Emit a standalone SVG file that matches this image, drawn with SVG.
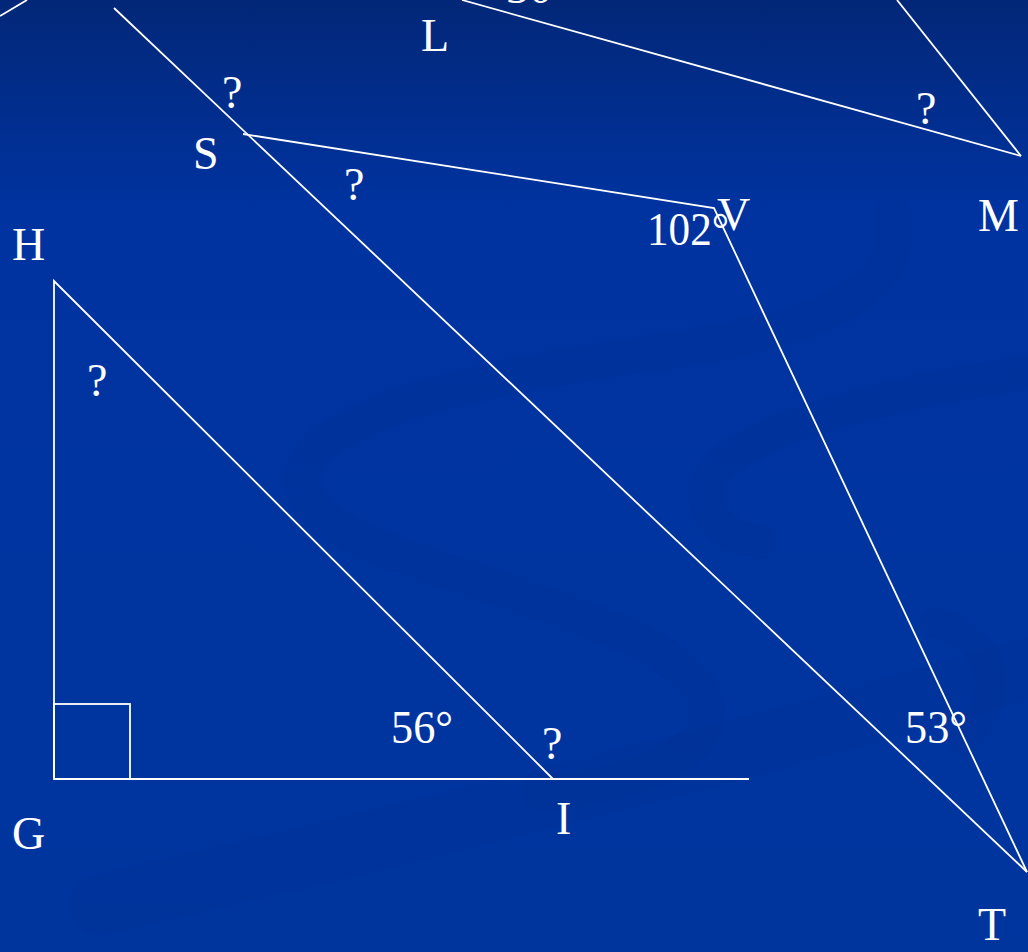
<svg xmlns="http://www.w3.org/2000/svg" width="1028" height="952" viewBox="0 0 1028 952">
  <defs>
    <linearGradient id="bg" x1="0" y1="0" x2="0" y2="1">
      <stop offset="0" stop-color="#022778"/>
      <stop offset="0.22" stop-color="#0033a0"/>
      <stop offset="1" stop-color="#00359e"/>
    </linearGradient>
  </defs>
  <style>
    .ln { stroke: #ffffff; stroke-width: 1.8; fill: none; stroke-linejoin: miter; }
    .lb { font-family: "Liberation Serif", "Times New Roman", serif; font-size: 46px; fill: #ffffff; }
    .sw { fill: none; stroke: #002c8a; stroke-linecap: round; opacity: 0.13; }
  </style>

  <rect x="0" y="0" width="1028" height="952" fill="url(#bg)"/>

  <g id="background-swirl">
    <path class="sw" stroke-width="36" d="M 893 215 C 905 295, 820 330, 640 355 C 460 380, 300 420, 302 480 C 304 540, 440 565, 560 610 C 680 650, 722 690, 702 730 C 682 770, 600 790, 540 792"/>
    <path class="sw" stroke-width="34" d="M 1028 372 C 900 392, 712 432, 706 490 C 703 525, 735 540, 760 542"/>
    <path class="sw" stroke-width="30" d="M 935 622 C 1000 640, 1008 700, 962 742"/>
    <path class="sw" stroke-width="60" d="M 100 905 C 400 835, 700 765, 1028 668"/>
  </g>

  <g id="connectors">
    <line class="ln" x1="0" y1="16" x2="27" y2="0"/>
    <line class="ln" x1="114" y1="8" x2="1027" y2="872"/>
    <polyline class="ln" points="243,134 714,208 1027,872"/>
    <line class="ln" x1="462" y1="0" x2="1021" y2="156"/>
    <line class="ln" x1="897" y1="0" x2="1021" y2="156"/>
    <polyline class="ln" points="54,779 54,281 553,779"/>
    <line class="ln" x1="54" y1="779" x2="749" y2="779"/>
    <rect class="ln" x="54" y="704" width="76" height="75"/>
  </g>

  <g id="node-top-angle"><text class="lb" x="506" y="3" textLength="46" lengthAdjust="spacingAndGlyphs">30</text></g>
  <g id="node-L"><text class="lb" x="421" y="51">L</text></g>
  <g id="node-M"><text class="lb" x="978" y="231">M</text></g>
  <g id="node-M-angle"><text class="lb" x="916" y="124">?</text></g>
  <g id="node-S"><text class="lb" x="193" y="169">S</text></g>
  <g id="node-S-angle-outer"><text class="lb" x="222" y="108">?</text></g>
  <g id="node-S-angle-inner"><text class="lb" x="344" y="200">?</text></g>
  <g id="node-V"><text class="lb" x="717" y="230">V</text></g>
  <g id="node-V-angle"><text class="lb" x="647" y="245" textLength="82" lengthAdjust="spacingAndGlyphs">102°</text></g>
  <g id="node-T"><text class="lb" x="978" y="940">T</text></g>
  <g id="node-T-angle"><text class="lb" x="905" y="743" textLength="62" lengthAdjust="spacingAndGlyphs">53°</text></g>
  <g id="node-H"><text class="lb" x="12" y="260">H</text></g>
  <g id="node-H-angle"><text class="lb" x="87" y="396">?</text></g>
  <g id="node-G"><text class="lb" x="12" y="849">G</text></g>
  <g id="node-I"><text class="lb" x="556" y="834">I</text></g>
  <g id="node-I-angle-interior"><text class="lb" x="391" y="743" textLength="62" lengthAdjust="spacingAndGlyphs">56°</text></g>
  <g id="node-I-angle-exterior"><text class="lb" x="542" y="759">?</text></g>
</svg>
